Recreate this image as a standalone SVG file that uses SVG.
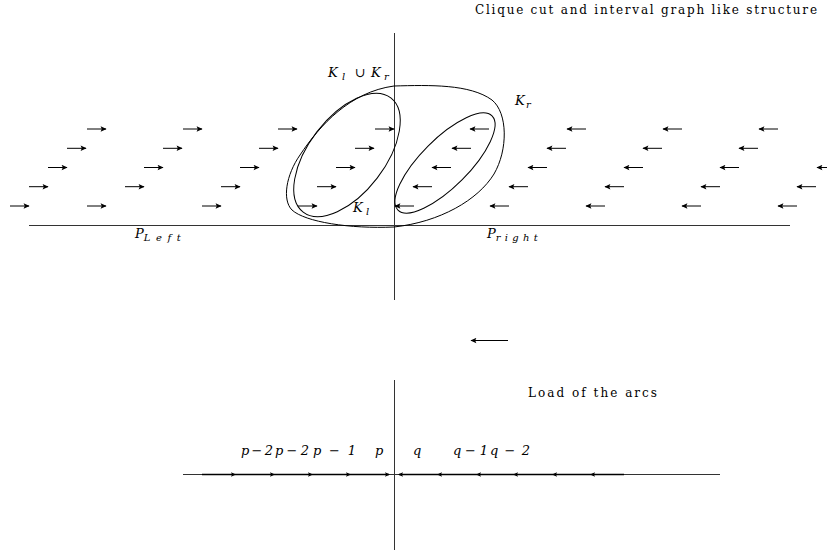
<svg xmlns="http://www.w3.org/2000/svg" width="827" height="557" viewBox="0 0 827 557">
<style>
.ax{stroke:#333;stroke-width:1;fill:none}
.arc{stroke:#000;stroke-width:1;fill:none;marker-end:url(#ah)}
.arcb{stroke:#000;stroke-width:1.3;fill:none;marker-end:url(#ahs)}
.cur{stroke:#000;stroke-width:1;fill:none}
.t{font-family:"DejaVu Serif","Liberation Serif",serif;font-size:12px;fill:#000}
.m{font-family:"DejaVu Serif","Liberation Serif",serif;font-style:italic;font-size:13px;fill:#000}
.s{font-size:10px}
</style>
<defs>
<marker id="ah" viewBox="0 0 10 10" refX="9" refY="5" markerWidth="8" markerHeight="6" markerUnits="userSpaceOnUse" orient="auto"><path d="M0,0.5 L10,5 L0,9.5 L2,5 z" fill="#000"/></marker>
<marker id="ahs" viewBox="0 0 10 10" refX="8" refY="5" markerWidth="6" markerHeight="5" markerUnits="userSpaceOnUse" orient="auto"><path d="M0,0.5 L10,5 L0,9.5 L2,5 z" fill="#000"/></marker>
</defs>
<rect width="827" height="557" fill="#fff"/>
<text class="t" x="475" y="14" textLength="342" lengthAdjust="spacing">Clique cut and interval graph like structure</text>

<g id="axes">
<line class="ax" x1="29" y1="225.5" x2="790" y2="225.5"/>
<line class="ax" x1="394.5" y1="33" x2="394.5" y2="300"/>
<line class="ax" x1="394.5" y1="380" x2="394.5" y2="550"/>
<line class="ax" x1="183" y1="474.5" x2="720" y2="474.5"/>
</g>

<g id="curves">
<path id="KlUKr" class="cur" d="M394,86 C430,85 470,84 492,100 C508,113 508,150 494,174 C478,200 440,222 394,227 C350,229 305,222 292,210 C282,200 286,175 300,155 C320,125 350,92 394,86 Z"/>
<ellipse id="Kl" class="cur" cx="347" cy="155" rx="72" ry="38" transform="rotate(-52.5 347 155)"/>
<ellipse id="Kr" class="cur" cx="445" cy="163" rx="66.5" ry="24" transform="rotate(-45 445 163)"/>
</g>

<g id="connectors">
<line class="arc" x1="87" y1="129" x2="106" y2="129"/>
<line class="arc" x1="183" y1="129" x2="202" y2="129"/>
<line class="arc" x1="278" y1="129" x2="297" y2="129"/>
<line class="arc" x1="375" y1="129" x2="394" y2="129"/>
<line class="arc" x1="67" y1="148.3" x2="86" y2="148.3"/>
<line class="arc" x1="163" y1="148.3" x2="182" y2="148.3"/>
<line class="arc" x1="259" y1="148.3" x2="278" y2="148.3"/>
<line class="arc" x1="355" y1="148.3" x2="374" y2="148.3"/>
<line class="arc" x1="48" y1="167.5" x2="67" y2="167.5"/>
<line class="arc" x1="144" y1="167.5" x2="163" y2="167.5"/>
<line class="arc" x1="240" y1="167.5" x2="259" y2="167.5"/>
<line class="arc" x1="336" y1="167.5" x2="355" y2="167.5"/>
<line class="arc" x1="29" y1="186.7" x2="48" y2="186.7"/>
<line class="arc" x1="125" y1="186.7" x2="144" y2="186.7"/>
<line class="arc" x1="221" y1="186.7" x2="240" y2="186.7"/>
<line class="arc" x1="317" y1="186.7" x2="336" y2="186.7"/>
<line class="arc" x1="10" y1="206" x2="29" y2="206"/>
<line class="arc" x1="87" y1="206" x2="106" y2="206"/>
<line class="arc" x1="202" y1="206" x2="221" y2="206"/>
<line class="arc" x1="298" y1="206" x2="317" y2="206"/>
<line class="arc" x1="489" y1="129" x2="470" y2="129"/>
<line class="arc" x1="586" y1="129" x2="567" y2="129"/>
<line class="arc" x1="682" y1="129" x2="663" y2="129"/>
<line class="arc" x1="778" y1="129" x2="759" y2="129"/>
<line class="arc" x1="471" y1="148.3" x2="452" y2="148.3"/>
<line class="arc" x1="566" y1="148.3" x2="547" y2="148.3"/>
<line class="arc" x1="662" y1="148.3" x2="643" y2="148.3"/>
<line class="arc" x1="758" y1="148.3" x2="739" y2="148.3"/>
<line class="arc" x1="451" y1="167.5" x2="432" y2="167.5"/>
<line class="arc" x1="547" y1="167.5" x2="528" y2="167.5"/>
<line class="arc" x1="643" y1="167.5" x2="624" y2="167.5"/>
<line class="arc" x1="739" y1="167.5" x2="720" y2="167.5"/>
<line class="arc" x1="836" y1="167.5" x2="817" y2="167.5"/>
<line class="arc" x1="432" y1="186.7" x2="413" y2="186.7"/>
<line class="arc" x1="528" y1="186.7" x2="509" y2="186.7"/>
<line class="arc" x1="624" y1="186.7" x2="605" y2="186.7"/>
<line class="arc" x1="720" y1="186.7" x2="701" y2="186.7"/>
<line class="arc" x1="816" y1="186.7" x2="797" y2="186.7"/>
<line class="arc" x1="414" y1="206" x2="395" y2="206"/>
<line class="arc" x1="509" y1="206" x2="490" y2="206"/>
<line class="arc" x1="605" y1="206" x2="586" y2="206"/>
<line class="arc" x1="701" y1="206" x2="682" y2="206"/>
<line class="arc" x1="797" y1="206" x2="778" y2="206"/>
<line class="arc" x1="508" y1="340.5" x2="471" y2="340.5"/>
<line class="arcb" x1="202" y1="474.5" x2="235" y2="474.5"/>
<line class="arcb" x1="235" y1="474.5" x2="274" y2="474.5"/>
<line class="arcb" x1="274" y1="474.5" x2="312" y2="474.5"/>
<line class="arcb" x1="312" y1="474.5" x2="350" y2="474.5"/>
<line class="arcb" x1="350" y1="474.5" x2="389" y2="474.5"/>
<line class="arcb" x1="624" y1="474.5" x2="591" y2="474.5"/>
<line class="arcb" x1="591" y1="474.5" x2="553" y2="474.5"/>
<line class="arcb" x1="553" y1="474.5" x2="514" y2="474.5"/>
<line class="arcb" x1="514" y1="474.5" x2="477" y2="474.5"/>
<line class="arcb" x1="477" y1="474.5" x2="438" y2="474.5"/>
<line class="arcb" x1="438" y1="474.5" x2="399" y2="474.5"/>
</g>

<g id="labels">
<text class="m" x="328" y="77" font-size="14">K<tspan class="s" x="342" dy="3">l</tspan><tspan x="355" dy="-3" font-style="normal">∪</tspan><tspan x="371">K</tspan><tspan class="s" x="384" dy="3">r</tspan></text>
<text class="m" x="515" y="105" font-size="13">K<tspan class="s" x="526" dy="3">r</tspan></text>
<text class="m" x="353" y="212" font-size="13">K<tspan class="s" x="366" dy="3">l</tspan></text>
<text class="m" x="135" y="238" font-size="12">P<tspan class="s" dy="3" textLength="37" lengthAdjust="spacing">Left</tspan></text>
<text class="m" x="487" y="238" font-size="12">P<tspan class="s" dy="3" textLength="42" lengthAdjust="spacing">right</tspan></text>
<text class="t" x="528" y="397" textLength="129" lengthAdjust="spacing">Load of the arcs</text>
<text class="m" x="241" y="455" font-size="12" textLength="32" lengthAdjust="spacing">p − 2</text>
<text class="m" x="275" y="455" font-size="12" textLength="34" lengthAdjust="spacing">p − 2</text>
<text class="m" x="313" y="455" font-size="12" textLength="43" lengthAdjust="spacing">p − 1</text>
<text class="m" x="375" y="455" font-size="12">p</text>
<text class="m" x="413" y="455" font-size="12">q</text>
<text class="m" x="453" y="455" font-size="12" textLength="35" lengthAdjust="spacing">q − 1</text>
<text class="m" x="490" y="455" font-size="12" textLength="40" lengthAdjust="spacing">q − 2</text>
</g>
</svg>
